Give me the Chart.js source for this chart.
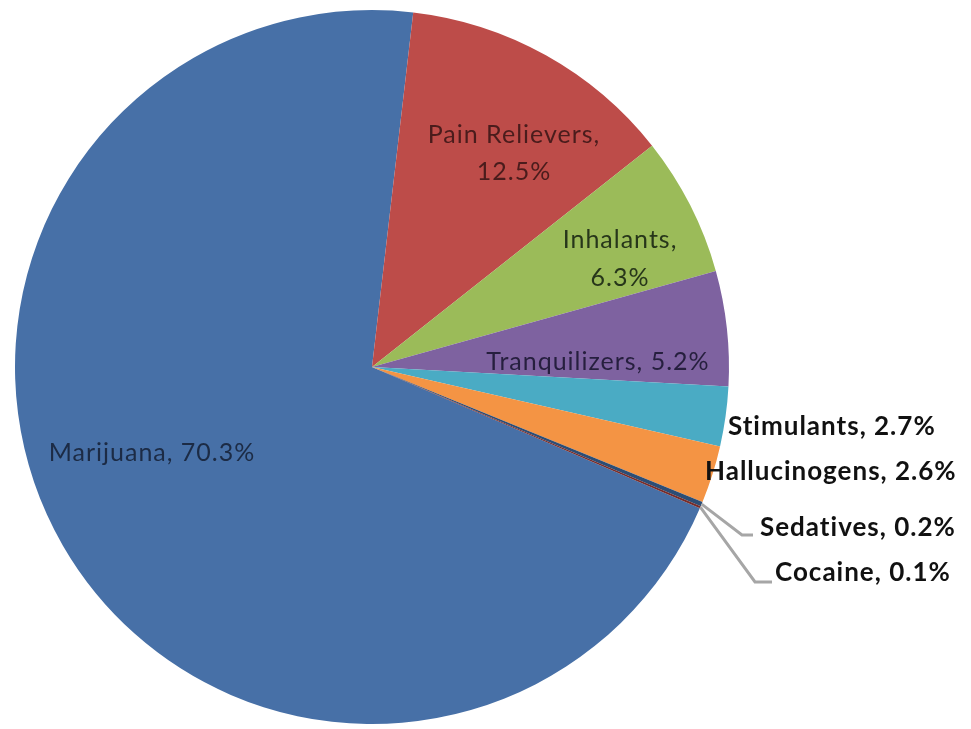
<!DOCTYPE html>
<html>
<head>
<meta charset="utf-8">
<script src="https://cdn.jsdelivr.net/npm/chart.js@4.4.0/dist/chart.umd.min.js"></script>
<style>
  html, body { margin: 0; padding: 0; background: #fff; }
  #wrap { width: 971px; height: 729px; position: relative; }
</style>
</head>
<body>
<div id="wrap"><canvas id="pieChart" width="971" height="729"></canvas></div>
<script>
// Drug categories and their shares (%)
const categories = ["Marijuana", "Pain Relievers", "Inhalants", "Tranquilizers",
  "Stimulants", "Hallucinogens", "Sedatives", "Cocaine"];
const shares = [70.3, 12.5, 6.3, 5.2, 2.7, 2.6, 0.2, 0.1];
const sliceColors = ["#4770a7", "#bd4c49", "#9bbb59", "#7e62a0",
  "#4aabc4", "#f49444", "#2c4d75", "#772c2a"];

// where each label sits, and whether it gets a leader line
const labelLayout = [
  { x: 152, y: 453, lines: 1, bold: false, color: "#1c2b45" },
  { x: 514, y: 135, lines: 2, bold: false, color: "#4a1c1c", gap: 37 },
  { x: 620, y: 240, lines: 2, bold: false, color: "#27361a", gap: 38 },
  { x: 598, y: 362, lines: 1, bold: false, color: "#261f3e" },
  { x: 728, y: 427, lines: 1, bold: true, align: "left", color: "#111" },
  { x: 705, y: 472, lines: 1, bold: true, align: "left", color: "#111" },
  { x: 760, y: 528, lines: 1, bold: true, align: "left", color: "#111",
    leader: [[742, 535], [753, 535]] },
  { x: 775, y: 573, lines: 1, bold: true, align: "left", color: "#111",
    leader: [[755, 582], [772, 582]] }
];

const pieLabels = {
  id: "pieLabels",
  afterDatasetsDraw(chart) {
    const ctx = chart.ctx;
    const arcs = chart.getDatasetMeta(0).data;
    ctx.save();
    // leader lines first so the text sits on top
    arcs.forEach((arc, i) => {
      const lay = labelLayout[i];
      if (!lay.leader) return;
      const mid = (arc.startAngle + arc.endAngle) / 2;
      ctx.beginPath();
      ctx.moveTo(arc.x + Math.cos(mid) * arc.outerRadius, arc.y + Math.sin(mid) * arc.outerRadius);
      lay.leader.forEach(p => ctx.lineTo(p[0], p[1]));
      ctx.strokeStyle = "#a6a6a6";
      ctx.lineWidth = 3;
      ctx.stroke();
    });
    arcs.forEach((arc, i) => {
      const lay = labelLayout[i];
      const pct = shares[i].toFixed(1) + "%";
      ctx.font = lay.bold ? "bold 26px Lato, sans-serif" : "25px Lato, sans-serif";
      ctx.letterSpacing = "1px";
      ctx.fillStyle = lay.color;
      ctx.textAlign = lay.align || "center";
      ctx.textBaseline = "middle";
      if (lay.lines === 2) {
        ctx.fillText(categories[i] + ",", lay.x, lay.y);
        ctx.fillText(pct, lay.x, lay.y + lay.gap);
      } else {
        ctx.fillText(categories[i] + ", " + pct, lay.x, lay.y);
      }
    });
    ctx.restore();
  }
};

const ctx = document.getElementById("pieChart").getContext("2d");
const pieChart = new Chart(ctx, {
  type: "pie",
  data: {
    labels: categories,
    datasets: [{
      data: shares,
      backgroundColor: sliceColors,
      borderWidth: 0
    }]
  },
  options: {
    responsive: false,
    animation: false,
    rotation: 113.3,
    layout: { padding: { left: 15, top: 10, right: 242, bottom: 5 } },
    plugins: {
      legend: { display: false },
      tooltip: { enabled: false }
    }
  },
  plugins: [pieLabels]
});
</script>
</body>
</html>
